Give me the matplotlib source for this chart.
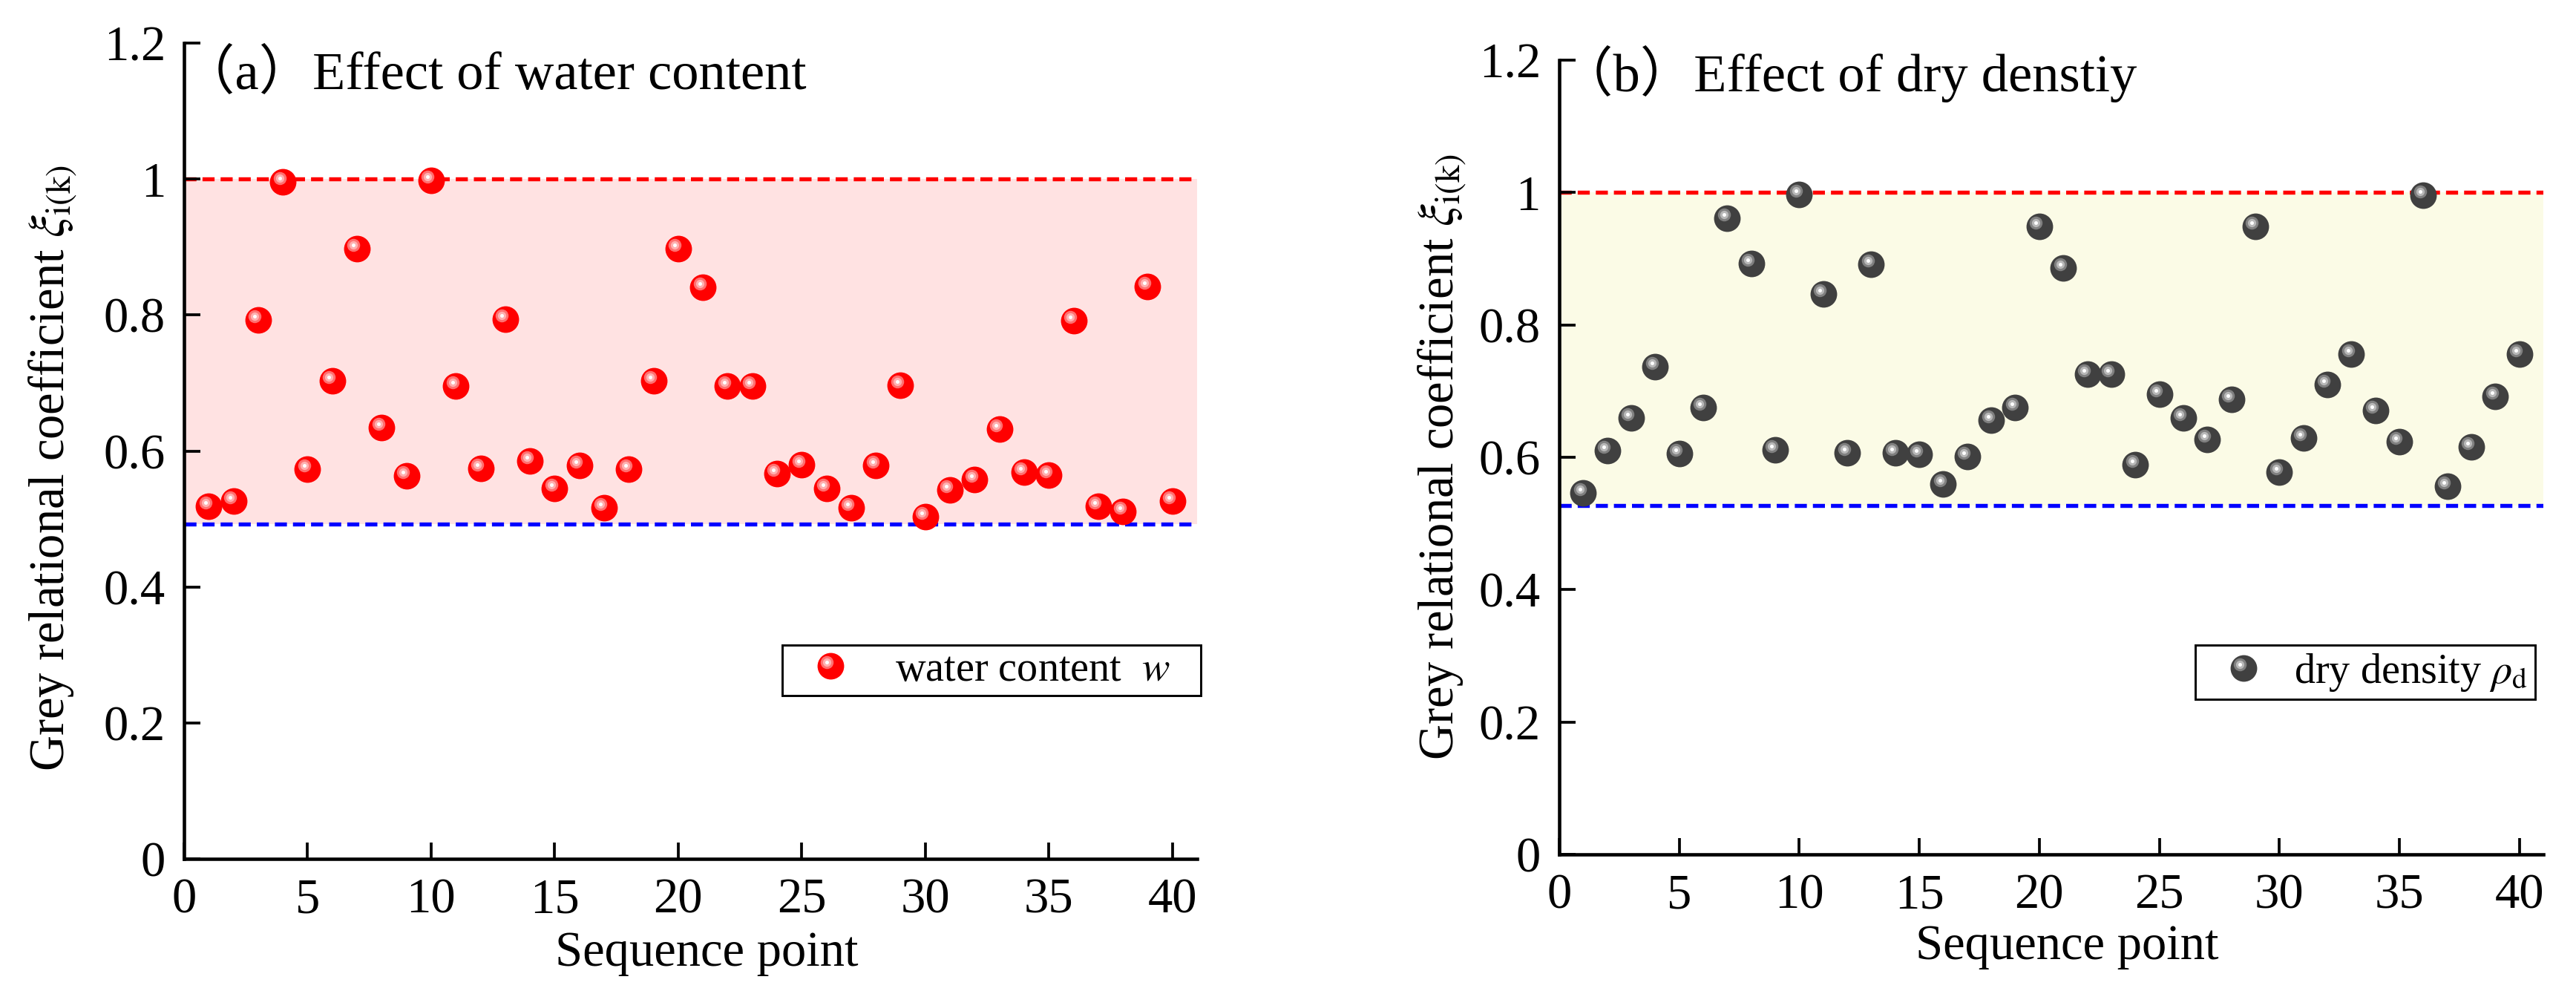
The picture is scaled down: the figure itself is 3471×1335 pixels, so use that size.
import matplotlib
matplotlib.use("Agg")
import matplotlib.pyplot as plt
from matplotlib.transforms import offset_copy
from matplotlib.legend_handler import HandlerBase
from matplotlib.lines import Line2D
from matplotlib.ticker import FuncFormatter

plt.rcParams['font.family'] = ['Liberation Serif', 'Noto Sans CJK SC', 'DejaVu Sans']
plt.rcParams['mathtext.fontset'] = 'stix'

# ---------------- data ----------------
seq = list(range(1, 41))
water_content = [0.519, 0.526, 0.793, 0.996, 0.573, 0.703, 0.897, 0.634, 0.563, 0.998,
                 0.695, 0.574, 0.794, 0.585, 0.545, 0.579, 0.517, 0.573, 0.703, 0.897,
                 0.841, 0.695, 0.695, 0.567, 0.580, 0.545, 0.517, 0.579, 0.697, 0.503,
                 0.543, 0.558, 0.632, 0.569, 0.565, 0.792, 0.519, 0.511, 0.842, 0.526]
dry_density = [0.546, 0.610, 0.659, 0.737, 0.606, 0.675, 0.961, 0.893, 0.611, 0.997,
               0.847, 0.607, 0.892, 0.607, 0.604, 0.560, 0.601, 0.656, 0.675, 0.949,
               0.886, 0.726, 0.726, 0.589, 0.695, 0.659, 0.627, 0.688, 0.949, 0.578,
               0.629, 0.710, 0.756, 0.671, 0.624, 0.996, 0.556, 0.616, 0.692, 0.756]
upper_a, lower_a = 1.0, 0.492
upper_b, lower_b = 1.0, 0.527
x_ticks = [0, 5, 10, 15, 20, 25, 30, 35, 40]
y_ticks = [0, 0.2, 0.4, 0.6, 0.8, 1.0, 1.2]
titles = ['（a）Effect of water content', '（b）Effect of dry denstiy']
legend_labels = [r'water content  $\mathit{w}$', r'dry density $\rho_{\mathrm{d}}$']
ylabel = r'Grey relational coefficient $\xi_{\mathrm{i(k)}}$'
xlabel = 'Sequence point'

W, H = 3471, 1335
fig = plt.figure(figsize=(W / 300, H / 300), dpi=300)

# sphere styles: (color, markersize, dx, dy) in points
red_layers = [('#ff0000', 8.6, 0, 0), ('#ff7070', 4.2, -1.1, 1.2),
              ('#ffb0b0', 2.7, -1.1, 1.2), ('#ffffff', 1.2, -1.1, 1.2)]
gray_layers = [('#404040', 8.6, 0, 0), ('#808080', 4.2, -1.1, 1.2),
               ('#b8b8b8', 2.7, -1.1, 1.2), ('#ffffff', 1.2, -1.1, 1.2)]


class SphereHandler(HandlerBase):
    def __init__(self, layers):
        super().__init__()
        self.layers = layers

    def create_artists(self, legend, orig_handle, xdescent, ydescent, width, height, fontsize, trans):
        cx = width / 2 - xdescent
        cy = height / 2 - ydescent
        arts = []
        for c, ms, dx, dy in self.layers:
            ln = Line2D([cx + dx], [cy + dy], marker='o', ms=ms, mfc=c, mec='none', ls='none')
            ln.set_transform(trans)
            arts.append(ln)
        return arts


def draw_panel(rect, yvals, upper, lower, fillc, layers, title, title_x, title_y, label,
               leg_bbox, htp, ylab_coords):
    ax = fig.add_axes(rect)
    ax.set_xlim(0, 41)
    ax.set_ylim(0, 1.2)
    ax.axhspan(lower, upper, color=fillc, lw=0, zorder=0)
    ax.axhline(upper, color='#ff0000', lw=1.3, ls=(0, (3, 1.5)), zorder=1)
    ax.axhline(lower, color='#0000ff', lw=1.3, ls=(0, (3, 1.5)), zorder=1)
    for c, ms, dx, dy in layers:
        tr = offset_copy(ax.transData, fig=fig, x=dx, y=dy, units='points')
        ax.plot(seq, yvals, 'o', ms=ms, mfc=c, mec='none', transform=tr, zorder=3, clip_on=False)
    for s in ['top', 'right']:
        ax.spines[s].set_visible(False)
    for s in ['left', 'bottom']:
        ax.spines[s].set_linewidth(1.1)
    ax.set_xticks(x_ticks)
    ax.set_yticks(y_ticks)
    ax.yaxis.set_major_formatter(FuncFormatter(lambda v, p: '{:g}'.format(round(v, 2))))
    ax.tick_params(direction='in', length=5.2, width=0.9, labelsize=16, pad=6)
    ax.set_xlabel(xlabel, fontsize=16)
    ax.xaxis.set_label_coords(0.516, -0.088)
    ax.set_ylabel(ylabel, fontsize=16)
    ax.yaxis.set_label_coords(*ylab_coords)
    ax.text(title_x, title_y, title, fontsize=17.4, va='center', ha='left', transform=ax.transAxes)
    h = Line2D([], [], ls='none')
    leg = ax.legend([h], [label], handler_map={Line2D: SphereHandler(layers)},
                    bbox_to_anchor=leg_bbox, bbox_transform=fig.transFigure, loc='center',
                    mode='expand', borderaxespad=0, fontsize=13.5, frameon=True, fancybox=False,
                    edgecolor='black', framealpha=1, borderpad=0.15, handlelength=2.0,
                    handletextpad=htp)
    leg.get_frame().set_linewidth(0.7)
    return ax


ax1 = draw_panel([248 / W, 1 - 1157 / H, (1613 - 248) / W, (1157 - 58) / H],
                 water_content, upper_a, lower_a, '#ffe2e2', red_layers, titles[0], -0.003, 0.962,
                 legend_labels[0],
                 (1054 / W, 1 - 943 / H, (1618 - 1054) / W, 80 / H), 0.56, (-0.104, 0.479))
ax2 = draw_panel([2101 / W, 1 - 1151 / H, (3427 - 2101) / W, (1151 - 81) / H],
                 dry_density, upper_b, lower_b, '#fbfbe6', gray_layers, titles[1], 0.0, 0.983,
                 legend_labels[1],
                 (2958 / W, 1 - 949 / H, (3416 - 2958) / W, 87 / H), 0.22, (-0.093, 0.5))

fig.savefig('out.png', dpi=300)
